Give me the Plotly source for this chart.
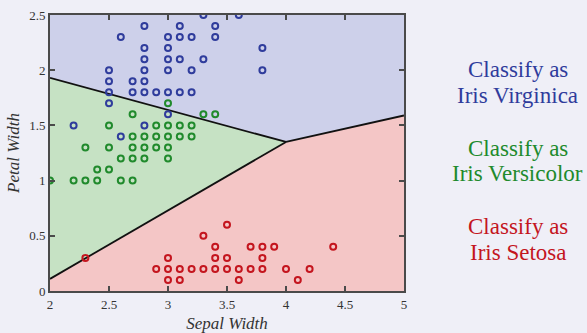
import plotly.graph_objects as go

# Observations (sepal width, petal width) per class
virginica_x = [3.3, 3.6, 2.8, 3.1, 3.4, 2.6, 3.0, 3.1, 3.2, 3.4, 2.8, 3.0, 2.8, 3.0, 3.1, 3.3,
               2.5, 2.8, 3.0, 3.2, 2.5, 2.7, 2.8, 2.5, 2.7, 2.8, 2.9, 3.0, 3.1, 3.2, 2.5,
               3.0, 2.2, 2.8, 2.6, 3.8, 3.8]
virginica_y = [2.5, 2.5, 2.4, 2.4, 2.4, 2.3, 2.3, 2.3, 2.3, 2.3, 2.2, 2.2, 2.1, 2.1, 2.1, 2.1,
               2.0, 2.0, 2.0, 2.0, 1.9, 1.9, 1.9, 1.8, 1.8, 1.8, 1.8, 1.8, 1.8, 1.8, 1.7,
               1.6, 1.5, 1.5, 1.4, 2.2, 2.0]

versicolor_x = [3.0, 2.7, 3.3, 3.4, 2.5, 2.9, 3.0, 3.1, 3.2, 2.7, 2.8, 2.9, 3.0, 3.1, 3.2,
                2.3, 2.5, 2.7, 2.8, 2.9, 3.0, 2.6, 2.7, 2.8, 3.0, 2.4, 2.5,
                2.0, 2.2, 2.3, 2.4, 2.6, 2.7]
versicolor_y = [1.7, 1.6, 1.6, 1.6, 1.5, 1.5, 1.5, 1.5, 1.5, 1.4, 1.4, 1.4, 1.4, 1.4, 1.4,
                1.3, 1.3, 1.3, 1.3, 1.3, 1.3, 1.2, 1.2, 1.2, 1.2, 1.1, 1.1,
                1.0, 1.0, 1.0, 1.0, 1.0, 1.0]

setosa_x = [2.3, 3.5, 3.3, 3.4, 3.7, 3.8, 3.9, 4.4, 3.0, 3.4, 3.5, 3.8,
            2.9, 3.0, 3.1, 3.2, 3.3, 3.4, 3.5, 3.6, 3.7, 3.8, 4.0, 4.2,
            3.0, 3.1, 3.6, 4.1]
setosa_y = [0.3, 0.6, 0.5, 0.4, 0.4, 0.4, 0.4, 0.4, 0.3, 0.3, 0.3, 0.3,
            0.2, 0.2, 0.2, 0.2, 0.2, 0.2, 0.2, 0.2, 0.2, 0.2, 0.2, 0.2,
            0.1, 0.1, 0.1, 0.1]

# Decision boundaries
vv_x = [2.0, 4.0]      # virginica / versicolor
vv_y = [1.93, 1.35]
vs_x = [2.0, 4.0]      # versicolor / setosa
vs_y = [0.11, 1.35]
gs_x = [4.0, 5.0]      # virginica / setosa
gs_y = [1.35, 1.59]

x_range = [2, 5]
y_range = [0, 2.5]
x_ticks = [2, 2.5, 3, 3.5, 4, 4.5, 5]
x_ticklabels = ["2", "2.5", "3", "3.5", "4", "4.5", "5"]
y_ticks = [0, 0.5, 1, 1.5, 2, 2.5]
y_ticklabels = ["0", "0.5", "1", "1.5", "2", "2.5"]

label_lines = [("Classify as", "Iris Virginica"),
               ("Classify as", "Iris Versicolor"),
               ("Classify as", "Iris Setosa")]

BG = "#efeff7"
BLUE_FILL = "#cdd0ea"
GREEN_FILL = "#c6e2c4"
RED_FILL = "#f4c6c6"
BLUE = "#2f3c9c"
GREEN = "#208a2c"
RED = "#c4151e"

fig = go.Figure()

# Regions
fig.add_trace(go.Scatter(
    x=[x_range[0], x_range[1], gs_x[1], gs_x[0], vv_x[0]],
    y=[y_range[1], y_range[1], gs_y[1], gs_y[0], vv_y[0]],
    fill="toself", fillcolor=BLUE_FILL, mode="lines", line=dict(width=0),
    hoverinfo="skip", showlegend=False))
fig.add_trace(go.Scatter(
    x=[vv_x[0], vv_x[1], vs_x[0]],
    y=[vv_y[0], vv_y[1], vs_y[0]],
    fill="toself", fillcolor=GREEN_FILL, mode="lines", line=dict(width=0),
    hoverinfo="skip", showlegend=False))
fig.add_trace(go.Scatter(
    x=[vs_x[0], vs_x[1], gs_x[1], x_range[1], x_range[0]],
    y=[vs_y[0], vs_y[1], gs_y[1], y_range[0], y_range[0]],
    fill="toself", fillcolor=RED_FILL, mode="lines", line=dict(width=0),
    hoverinfo="skip", showlegend=False))

# Boundary lines
for bx, by in [(vv_x, vv_y), (vs_x, vs_y), (gs_x, gs_y)]:
    fig.add_trace(go.Scatter(x=bx, y=by, mode="lines",
                             line=dict(color="#111111", width=1.8),
                             hoverinfo="skip", showlegend=False))

# Points
for px, py, col in [(virginica_x, virginica_y, BLUE),
                    (versicolor_x, versicolor_y, GREEN),
                    (setosa_x, setosa_y, RED)]:
    fig.add_trace(go.Scatter(x=px, y=py, mode="markers",
                             marker=dict(symbol="circle-open", size=6, color=col,
                                         line=dict(width=2, color=col)),
                             showlegend=False))

axis_common = dict(showgrid=False, zeroline=False, showline=True, linecolor="#4a4a4a",
                   linewidth=2, mirror="ticks", ticks="inside", ticklen=5,
                   tickwidth=1.5, tickcolor="#4a4a4a", automargin=False,
                   tickfont=dict(family="Liberation Serif", size=13, color="#333333"))

fig.update_xaxes(range=x_range, tickvals=x_ticks, ticktext=x_ticklabels,
                 title=dict(text="<i>Sepal Width</i>",
                            font=dict(family="Liberation Serif", size=17, color="#333333")),
                 **axis_common)
fig.update_yaxes(range=y_range, tickvals=y_ticks, ticktext=y_ticklabels,
                 title=dict(text="<i>Petal Width</i>", standoff=5,
                            font=dict(family="Liberation Serif", size=17, color="#333333")),
                 **axis_common)

label_colors = [BLUE, GREEN, RED]
label_y = [(0.804, 0.710), (0.518, 0.4275), (0.232, 0.138)]
for (l1, l2), col, (y1, y2) in zip(label_lines, label_colors, label_y):
    for txt, yy in [(l1, y1), (l2, y2)]:
        fig.add_annotation(text=txt, x=1.322, y=yy, xref="paper", yref="paper",
                           showarrow=False, xanchor="center", yanchor="middle",
                           font=dict(family="Liberation Serif", size=23, color=col))

fig.update_layout(width=587, height=333,
                  margin=dict(l=50, r=183, t=15, b=42),
                  paper_bgcolor=BG, plot_bgcolor=BG)

fig.write_html("out.html", config={"displayModeBar": False},
               post_script="document.body.style.margin='0';"
                           "document.body.style.background='%s';" % BG)
